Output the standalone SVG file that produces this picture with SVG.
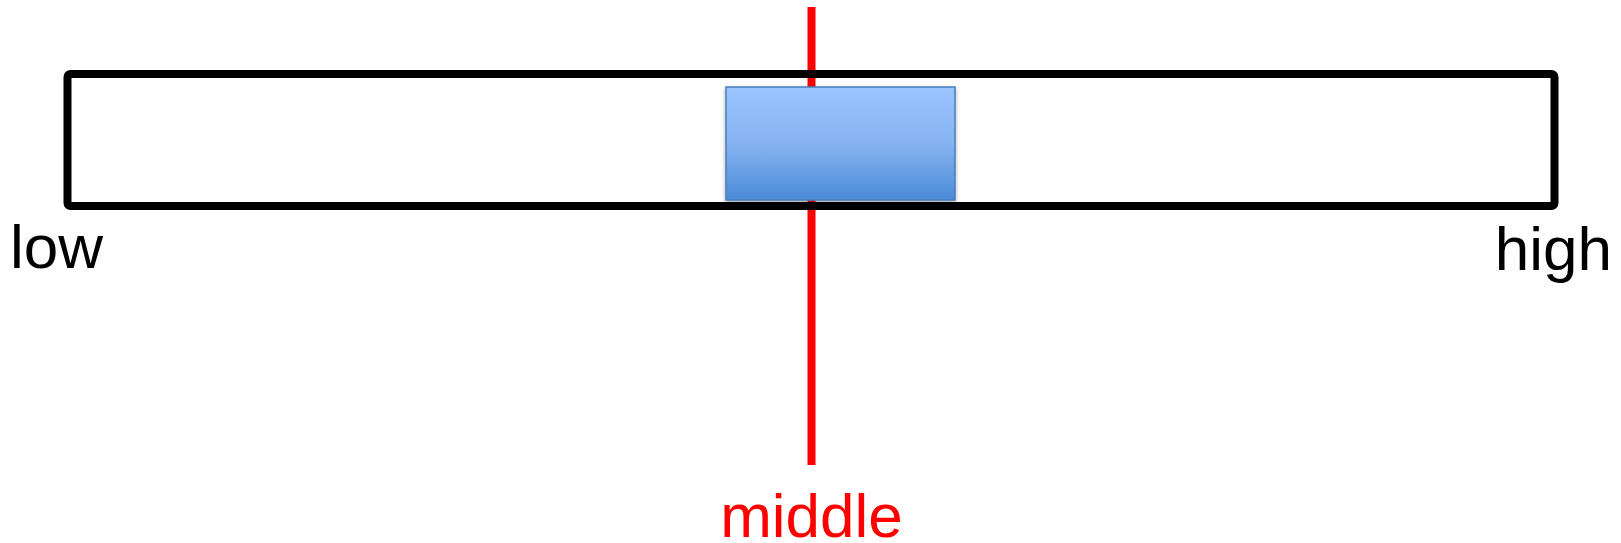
<svg xmlns="http://www.w3.org/2000/svg" width="1621" height="543" viewBox="0 0 1621 543">
  <style>
    .lbl { font-family: "Liberation Sans", Arial, sans-serif; font-size: 62px; }
    .blk { fill: #000000; }
    .red { fill: #ff0000; }
  </style>
  <defs>
    <linearGradient id="boxGrad" x1="0" y1="0" x2="0" y2="1">
      <stop offset="0" stop-color="#9bc4ff"/>
      <stop offset="0.5" stop-color="#86b3f0"/>
      <stop offset="1" stop-color="#4a8bd8"/>
    </linearGradient>
    <filter id="shadow" x="-10%" y="-10%" width="120%" height="130%">
      <feGaussianBlur in="SourceAlpha" stdDeviation="2"/>
      <feOffset dx="0" dy="2" result="b"/>
      <feComponentTransfer><feFuncA type="linear" slope="0.35"/></feComponentTransfer>
      <feMerge><feMergeNode/><feMergeNode in="SourceGraphic"/></feMerge>
    </filter>
  </defs>
  <rect width="1621" height="543" fill="#ffffff"/>
  <g id="connectors">
    <line x1="811.5" y1="7" x2="811.5" y2="465" stroke="#ff0000" stroke-width="8"/>
  </g>
  <g id="scale">
    <rect x="67.5" y="74" width="1487" height="132" rx="3" fill="none" stroke="#000000" stroke-width="8"/>
  </g>
  <g id="box">
    <rect x="726" y="87" width="229" height="113" fill="url(#boxGrad)" stroke="#4a7ebb" stroke-width="1.5" filter="url(#shadow)"/>
  </g>
  <g id="label-low">
    <text class="lbl blk" x="10" y="268">low</text>
  </g>
  <g id="label-high">
    <text class="lbl blk" x="1612" y="270" text-anchor="end">high</text>
  </g>
  <g id="label-middle">
    <text class="lbl red" x="811.5" y="537" text-anchor="middle">middle</text>
  </g>
</svg>
